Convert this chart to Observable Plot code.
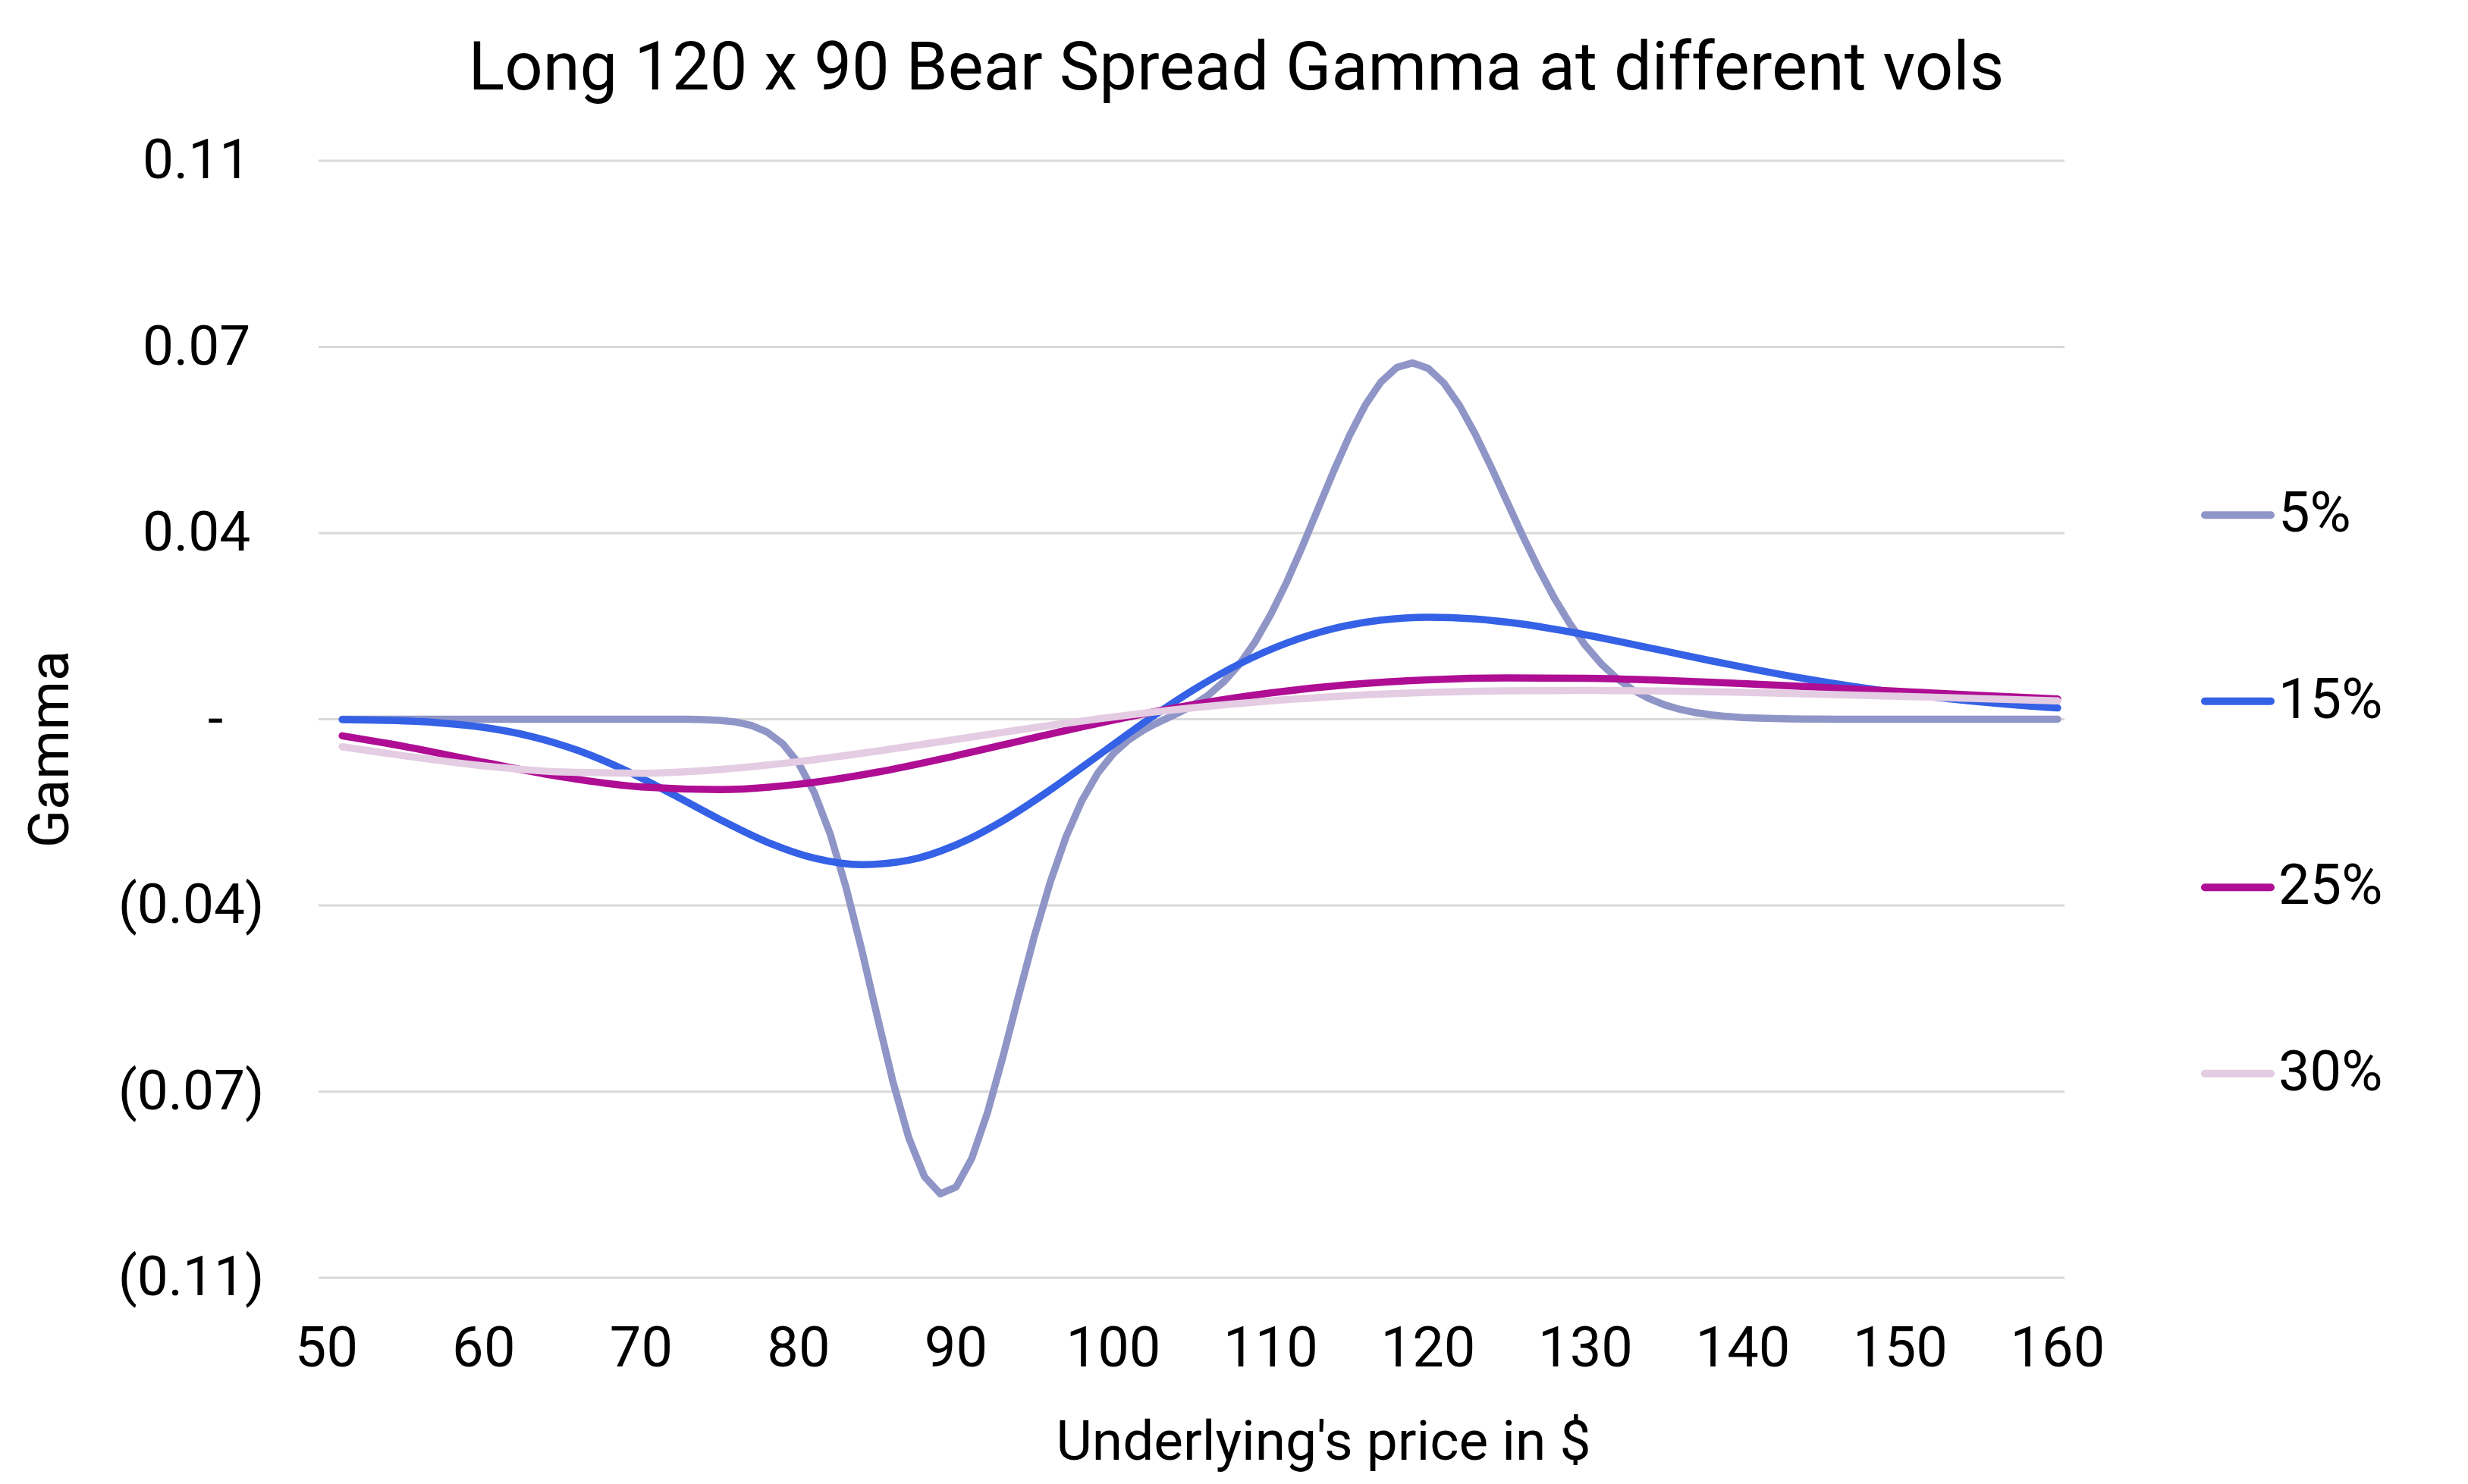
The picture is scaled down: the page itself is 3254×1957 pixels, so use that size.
<!DOCTYPE html>
<html>
<head>
<meta charset="utf-8">
<script src="https://cdn.jsdelivr.net/npm/d3@7"></script>
<script src="https://cdn.jsdelivr.net/npm/@observablehq/plot@0.6"></script>
<style>
html, body { margin: 0; padding: 0; background: #fff; overflow: hidden; }
#chart { position: relative; width: 3254px; height: 1957px; }
</style>
</head>
<body>
<div id="chart"></div>
<script>
// ---- Data ----
const title = "Long 120 x 90 Bear Spread Gamma at different vols";
const xLabel = "Underlying's price in $";
const yLabel = "Gamma";
const vols = ["5%", "15%", "25%", "30%"];
const colors = ["#8f95c6", "#3461e5", "#ae0d94", "#e4cce2"];

const price5 = [51,52,53,54,55,56,57,58,59,60,61,62,63,64,65,66,67,68,69,70,71,72,73,74,75,76,77,78,79,80,
  81,82,83,84,85,86,87,88,89,90,91,92,93,94,95,96,97,98,99,100,101,102,103,104,105,106,107,108,109,110,
  111,112,113,114,115,116,117,118,119,120,121,122,123,124,125,126,127,128,129,130,131,132,133,134,135,136,137,138,139,140,
  141,142,143,144,145,146,147,148,149,150,151,152,153,154,155,156,157,158,159,160];
const gamma5 = [0,0,0,0,0,0,0,0,0,0,0,0,0,0,0,0,0,0,0,0,0,0,0,
  -0.00008,-0.00022,-0.00052,-0.00117,-0.00242,-0.00464,-0.00829,-0.01381,-0.02153,-0.03147,-0.04323,
  -0.05590,-0.06822,-0.07871,-0.08602,-0.08922,-0.08796,-0.08259,-0.07395,-0.06325,-0.05176,-0.04057,
  -0.03051,-0.02204,-0.01531,-0.01016,-0.00644,-0.00380,-0.00188,-0.00038,0.00100,0.00253,0.00446,
  0.00699,0.01030,0.01451,0.01968,0.02570,0.03242,0.03954,0.04665,0.05330,0.05903,0.06341,0.06613,
  0.06699,0.06597,0.06321,0.05895,0.05357,0.04744,0.04098,0.03455,0.02845,0.02288,0.01799,0.01384,
  0.01042,0.00768,0.00555,0.00393,0.00273,0.00186,0.00124,0.00081,0.00052,0.00033,0.00021,0.00013,
  0.00008,0.00005,0.00003,
  0,0,0,0,0,0,0,0,0,0,0,0,0,0,0];

const price15 = [51,54,57,60,63,66,69,72,75,78,81,84,87,90,93,96,99,102,105,108,111,114,117,120,
  123,126,129,132,135,138,141,144,147,150,153,156,159,160];
const gamma15 = [-0.00006,-0.00022,-0.00063,-0.00153,-0.00321,-0.00589,-0.00961,-0.01411,-0.01885,
  -0.02310,-0.02612,-0.02735,-0.02651,-0.02363,-0.01904,-0.01326,-0.00689,-0.00051,0.00537,0.01039,
  0.01431,0.01705,0.01864,0.01919,0.01887,0.01789,0.01643,0.01470,0.01284,0.01098,0.00921,0.00759,
  0.00616,0.00493,0.00388,0.00302,0.00233,0.00213];

const price25 = [51,55,60,65,70,75,80,85,90,95,100,105,110,115,120,125,130,135,140,145,150,155,160];
const gamma25 = [-0.00311,-0.00514,-0.00809,-0.01086,-0.01273,-0.01322,-0.01221,-0.00994,-0.00685,
  -0.00344,-0.00014,0.00272,0.00495,0.00651,0.00742,0.00777,0.00769,0.00730,0.00670,0.00599,
  0.00524,0.00450,0.00381];

const price30 = [51,55,60,65,70,75,80,85,90,95,100,105,110,115,120,125,130,135,140,145,150,155,160];
const gamma30 = [-0.00517,-0.00690,-0.00876,-0.00991,-0.01014,-0.00943,-0.00797,-0.00599,-0.00378,
  -0.00157,0.00044,0.00214,0.00347,0.00443,0.00505,0.00536,0.00543,0.00531,0.00506,0.00471,
  0.00431,0.00389,0.00347];

const xTicks = [50,60,70,80,90,100,110,120,130,140,150,160];
const yTicks = [-0.105,-0.07,-0.035,0,0.035,0.07,0.105];
const yTickLabels = ["(0.11)","(0.07)","(0.04)","-","0.04","0.07","0.11"];

// ---- Build table ----
const toRows = (xs, ys, s) => xs.map((x, i) => ({price: x, gamma: ys[i], vol: s}));
const series = [
  {rows: toRows(price5, gamma5, vols[0]), curve: "linear"},
  {rows: toRows(price15, gamma15, vols[1]), curve: "monotone-x"},
  {rows: toRows(price25, gamma25, vols[2]), curve: "monotone-x"},
  {rows: toRows(price30, gamma30, vols[3]), curve: "monotone-x"}
];

const W = 3254, H = 1957;
const font = "Roboto, 'Open Sans', sans-serif";

const yFmt = d => {
  const s = yTickLabels[yTicks.indexOf(d)];
  if (s === "-") return s + "\u00a0\u00a0\u00a0";
  if (s.startsWith("(")) return s;
  return s + "\u00a0";
};

const plot = Plot.plot({
  width: W,
  height: H,
  marginLeft: 420,
  marginRight: 532,
  marginTop: 211.5,
  marginBottom: 272.5,
  style: {fontFamily: font, color: "#000", background: "#fff", overflow: "visible"},
  x: {domain: [49.52, 160.46]},
  y: {domain: [-0.105, 0.105]},
  color: {domain: vols, range: colors},
  marks: [
    Plot.gridY(yTicks, {stroke: "#d9d9d9", strokeOpacity: 1, strokeWidth: 3}),
    Plot.axisY(yTicks, {tickSize: 0, tickPadding: 72, tickFormat: yFmt, fontSize: 73, fill: "#000", label: null}),
    Plot.axisX(xTicks, {tickSize: 0, tickPadding: 64, fontSize: 74, fill: "#000", label: null}),
    ...series.map(s => Plot.line(s.rows, {
      x: "price", y: "gamma", stroke: "vol", strokeWidth: 9.5,
      curve: s.curve, strokeLinecap: "round", strokeLinejoin: "round"
    }))
  ]
});

document.getElementById("chart").appendChild(plot);

// ---- Title, axis titles and legend ----
const svg = d3.select(plot);
svg.append("text")
  .attr("x", 1630).attr("y", 118)
  .attr("text-anchor", "middle")
  .attr("font-family", font).attr("font-size", 88.5).attr("fill", "#000")
  .text(title);

svg.append("text")
  .attr("x", 1745).attr("y", 1925)
  .attr("text-anchor", "middle")
  .attr("font-family", font).attr("font-size", 73).attr("fill", "#000")
  .text(xLabel);

svg.append("text")
  .attr("transform", "translate(90,988) rotate(-90)")
  .attr("text-anchor", "middle")
  .attr("font-family", font).attr("font-size", 74).attr("fill", "#000")
  .text(yLabel);

const legend = svg.append("g");
vols.forEach((v, i) => {
  const cy = 679.3 + i * 245.5;
  legend.append("line")
    .attr("x1", 2907).attr("x2", 2994).attr("y1", cy).attr("y2", cy)
    .attr("stroke", colors[i]).attr("stroke-width", 10).attr("stroke-linecap", "round");
  legend.append("text")
    .attr("x", 3004).attr("y", cy + 22)
    .attr("text-anchor", "start")
    .attr("font-family", font).attr("font-size", 74).attr("fill", "#000")
    .text(v);
});
</script>
</body>
</html>
